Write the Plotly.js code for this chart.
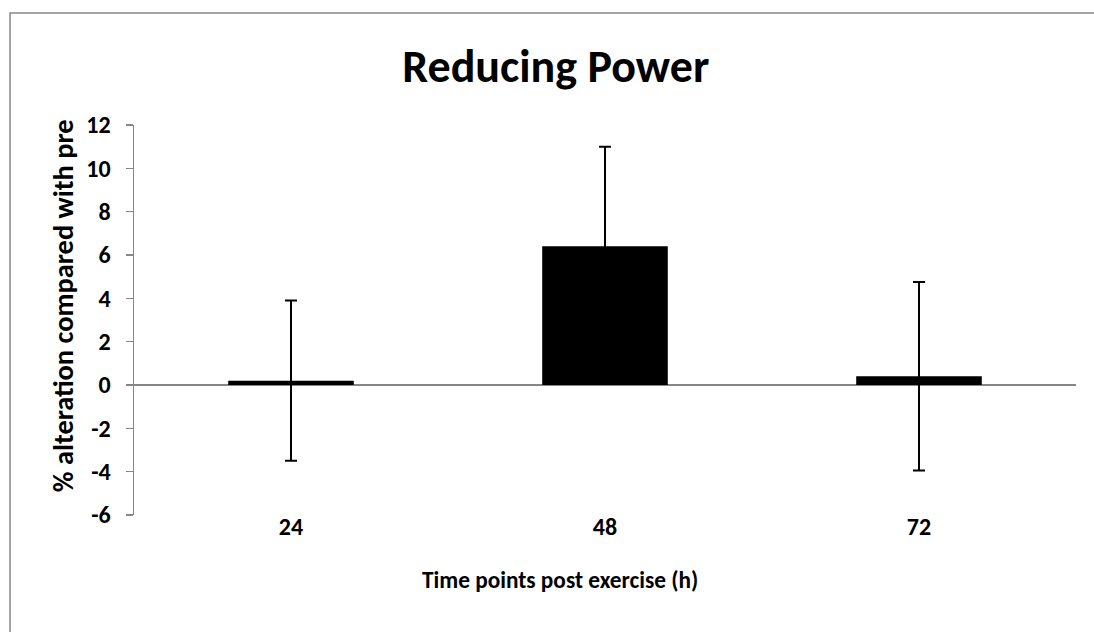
<!DOCTYPE html>
<html>
<head>
<meta charset="utf-8">
<script src="https://cdn.plot.ly/plotly-3.0.1.min.js"></script>
<style>
  html, body { margin: 0; padding: 0; background: #fff; }
  #chart { width: 1094px; height: 632px; }
</style>
</head>
<body>
<div id="chart"></div>
<script>
// Data
const categories = ['24', '48', '72'];
const values = [0.2, 6.4, 0.4];
const errors = [3.7, 4.6, 4.35];
const yTickVals = [-6, -4, -2, 0, 2, 4, 6, 8, 10, 12];
const titleText = 'Reducing Power';
const xTitleText = 'Time points post exercise (h)';
const yTitleText = '% alteration compared with pre';

const FONT = 'Calibri, Carlito, Lato, sans-serif';

const trace = {
  type: 'bar',
  x: categories,
  y: values,
  marker: { color: '#000000', line: { width: 0 } },
  error_y: {
    type: 'data',
    array: errors,
    symmetric: true,
    visible: true,
    color: '#000000',
    thickness: 2,
    width: 6
  },
  hoverinfo: 'skip'
};

const layout = {
  width: 1094,
  height: 632,
  margin: { l: 134, r: 18, t: 125, b: 117 },
  paper_bgcolor: '#ffffff',
  plot_bgcolor: '#ffffff',
  showlegend: false,
  bargap: 0.6,
  title: {
    text: '<b>' + titleText + '</b>',
    font: { family: FONT, size: 46, color: '#000000' },
    x: 0.508, xref: 'container', xanchor: 'center',
    y: 0.895, yref: 'container', yanchor: 'middle'
  },
  xaxis: {
    type: 'category',
    showline: false,
    showgrid: false,
    zeroline: false,
    ticks: '',
    tickfont: { family: FONT, size: 24, color: '#000000', weight: 'bold' },
    ticklabelstandoff: -5
  },
  yaxis: {
    range: [-6, 12],
    tickvals: yTickVals,
    ticktext: yTickVals.map(String),
    showline: true,
    linecolor: '#868686',
    linewidth: 1.5,
    showgrid: false,
    zeroline: true,
    zerolinecolor: '#868686',
    zerolinewidth: 1.5,
    ticks: 'outside',
    ticklen: 7,
    tickwidth: 1.5,
    tickcolor: '#868686',
    tickfont: { family: FONT, size: 24, color: '#000000', weight: 'bold' },
    ticklabelstandoff: 10
  },
  annotations: [
    {
      text: '<b>' + xTitleText + '</b>',
      xref: 'paper', yref: 'paper',
      x: 0.452, y: -0.167,
      xanchor: 'center', yanchor: 'middle',
      showarrow: false,
      font: { family: FONT, size: 23.3, color: '#000000' }
    },
    {
      text: '<b>' + yTitleText + '</b>',
      xref: 'paper', yref: 'paper',
      x: -0.0754, y: 0.538,
      xanchor: 'center', yanchor: 'middle',
      textangle: -90,
      showarrow: false,
      font: { family: FONT, size: 28.4, color: '#000000' }
    }
  ],
  shapes: [{
    type: 'rect',
    xref: 'paper', yref: 'paper',
    x0: -0.1316, x1: 1.03,
    y0: -0.33, y1: 1.287,
    line: { color: '#888888', width: 1.5 },
    fillcolor: 'rgba(0,0,0,0)',
    layer: 'below'
  }]
};

Plotly.newPlot('chart', [trace], layout, { staticPlot: true, displayModeBar: false });
</script>
</body>
</html>
